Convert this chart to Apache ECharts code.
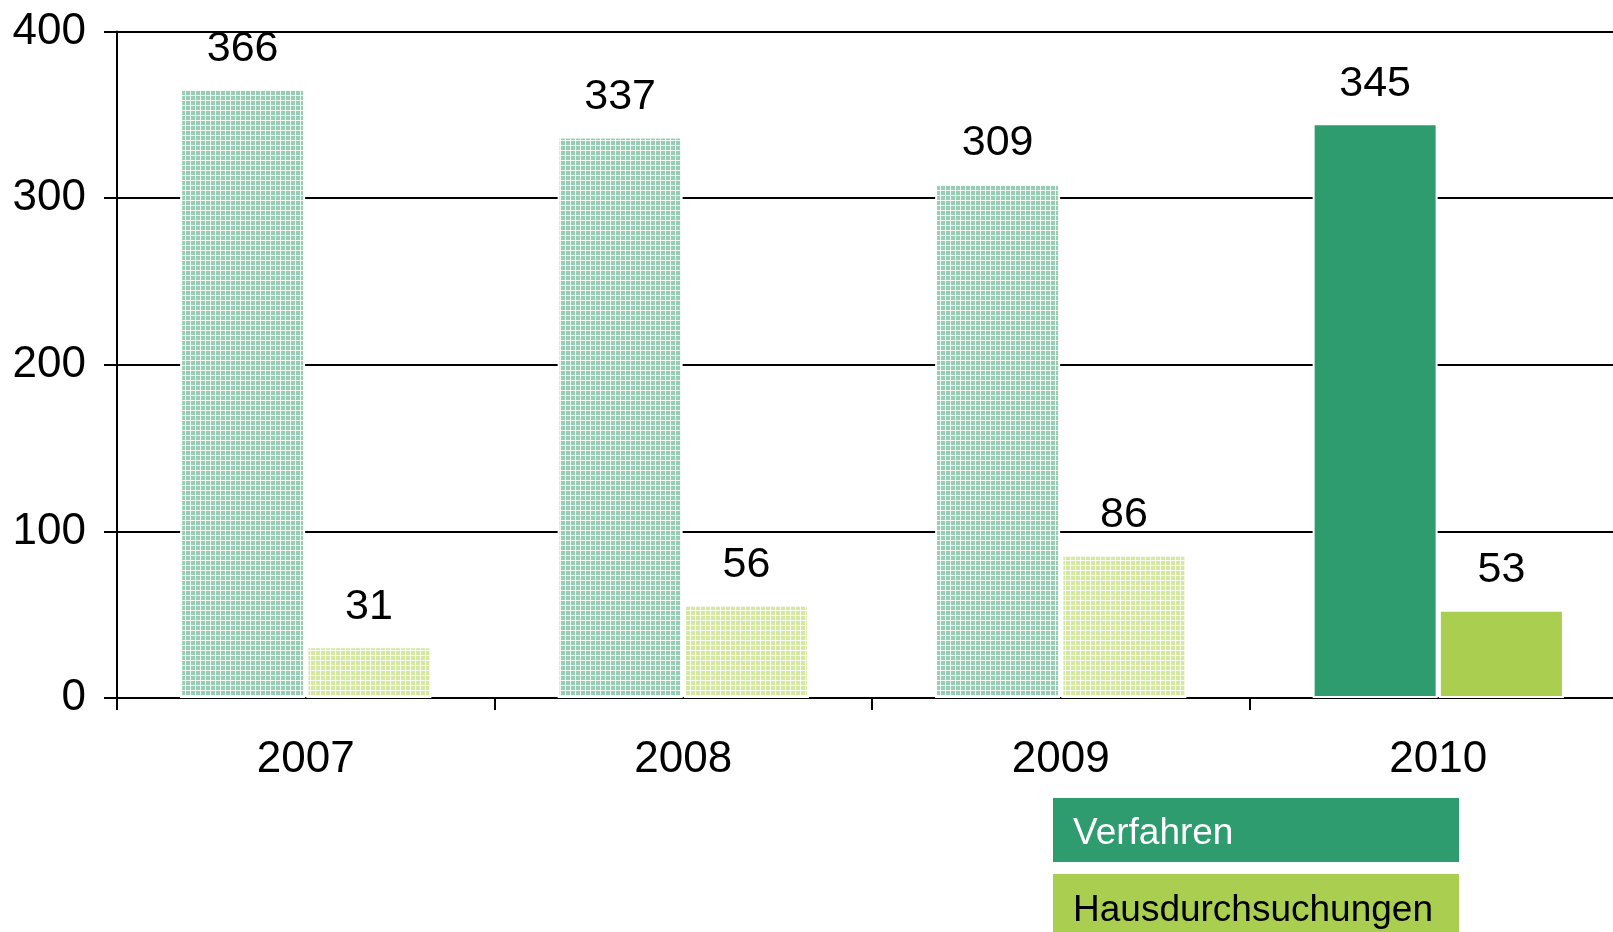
<!DOCTYPE html>
<html>
<head>
<meta charset="utf-8">
<script src="https://cdn.jsdelivr.net/npm/echarts@6/dist/echarts.min.js"></script>
<style>
  html, body { margin: 0; padding: 0; background: #fff; overflow: hidden; }
  /* the plot runs past the right edge of the picture, so the canvas is wider than the window */
  #chart { width: 1627px; height: 932px; }
</style>
</head>
<body>
<div id="chart"></div>
<script>
var years = ['2007', '2008', '2009', '2010'];
var verfahren = [366, 337, 309, 345];
var hausdurchsuchungen = [31, 56, 86, 53];
var yTicks = [0, 100, 200, 300, 400];
// earlier years are drawn hatched, the last one solid
var hatched = [true, true, true, false];

function makePattern(base) {
    var c = document.createElement('canvas');
    c.width = 5;
    c.height = 5;
    var ctx = c.getContext('2d');
    ctx.fillStyle = base;
    ctx.fillRect(0, 0, 5, 5);
    ctx.fillStyle = 'rgba(255,255,255,0.85)';
    ctx.fillRect(0, 0, 5, 1);
    ctx.fillRect(0, 0, 1, 5);
    return { image: c, repeat: 'repeat' };
}

var greenSolid = '#2e9c6f';
var limeSolid = '#aacf50';
var greenHatch = makePattern('#96cdb4');
var limeHatch = makePattern('#d5e8a0');

function buildData(values, solid, hatch) {
    return values.map(function (v, i) {
        return { value: v, itemStyle: { color: hatched[i] ? hatch : solid } };
    });
}

var font = "'Liberation Sans', Arial, sans-serif";
var chart = echarts.init(document.getElementById('chart'));

var labelStyle = {
    show: true,
    position: 'top',
    distance: 18,
    color: '#000',
    fontSize: 43,
    fontFamily: font
};

chart.setOption({
    animation: false,
    grid: { left: 117, right: 0, top: 31.5, bottom: 234 },
    xAxis: {
        type: 'category',
        data: years,
        axisLine: { lineStyle: { color: '#000', width: 2 } },
        axisTick: { show: true, length: 12, lineStyle: { color: '#000', width: 2 } },
        axisLabel: { color: '#000', fontSize: 44, fontFamily: font, margin: 40 }
    },
    yAxis: {
        type: 'value',
        min: yTicks[0],
        max: yTicks[yTicks.length - 1],
        interval: 100,
        axisLine: { show: true, lineStyle: { color: '#000', width: 2 } },
        axisTick: { show: true, length: 13, lineStyle: { color: '#000', width: 2 } },
        axisLabel: { color: '#000', fontSize: 44, fontFamily: font, margin: 31 },
        splitLine: { lineStyle: { color: '#000', width: 2 } }
    },
    series: [
        {
            name: 'Verfahren',
            type: 'bar',
            barWidth: 125,
            barGap: '1%',
            data: buildData(verfahren, greenSolid, greenHatch),
            itemStyle: { borderColor: '#fff', borderWidth: 2 },
            label: labelStyle
        },
        {
            name: 'Hausdurchsuchungen',
            type: 'bar',
            barWidth: 125,
            data: buildData(hausdurchsuchungen, limeSolid, limeHatch),
            itemStyle: { borderColor: '#fff', borderWidth: 2 },
            label: labelStyle
        }
    ],
    graphic: [
        {
            type: 'rect',
            shape: { x: 1053, y: 798, width: 406, height: 64 },
            style: { fill: greenSolid }
        },
        {
            type: 'text',
            x: 1073,
            y: 834,
            style: {
                text: 'Verfahren',
                fill: '#fff',
                font: '37px ' + font,
                verticalAlign: 'middle'
            }
        },
        {
            type: 'rect',
            shape: { x: 1053, y: 874, width: 406, height: 70 },
            style: { fill: limeSolid }
        },
        {
            type: 'text',
            x: 1073,
            y: 911,
            style: {
                text: 'Hausdurchsuchungen',
                fill: '#000',
                font: '37px ' + font,
                verticalAlign: 'middle'
            }
        }
    ]
});
</script>
</body>
</html>
